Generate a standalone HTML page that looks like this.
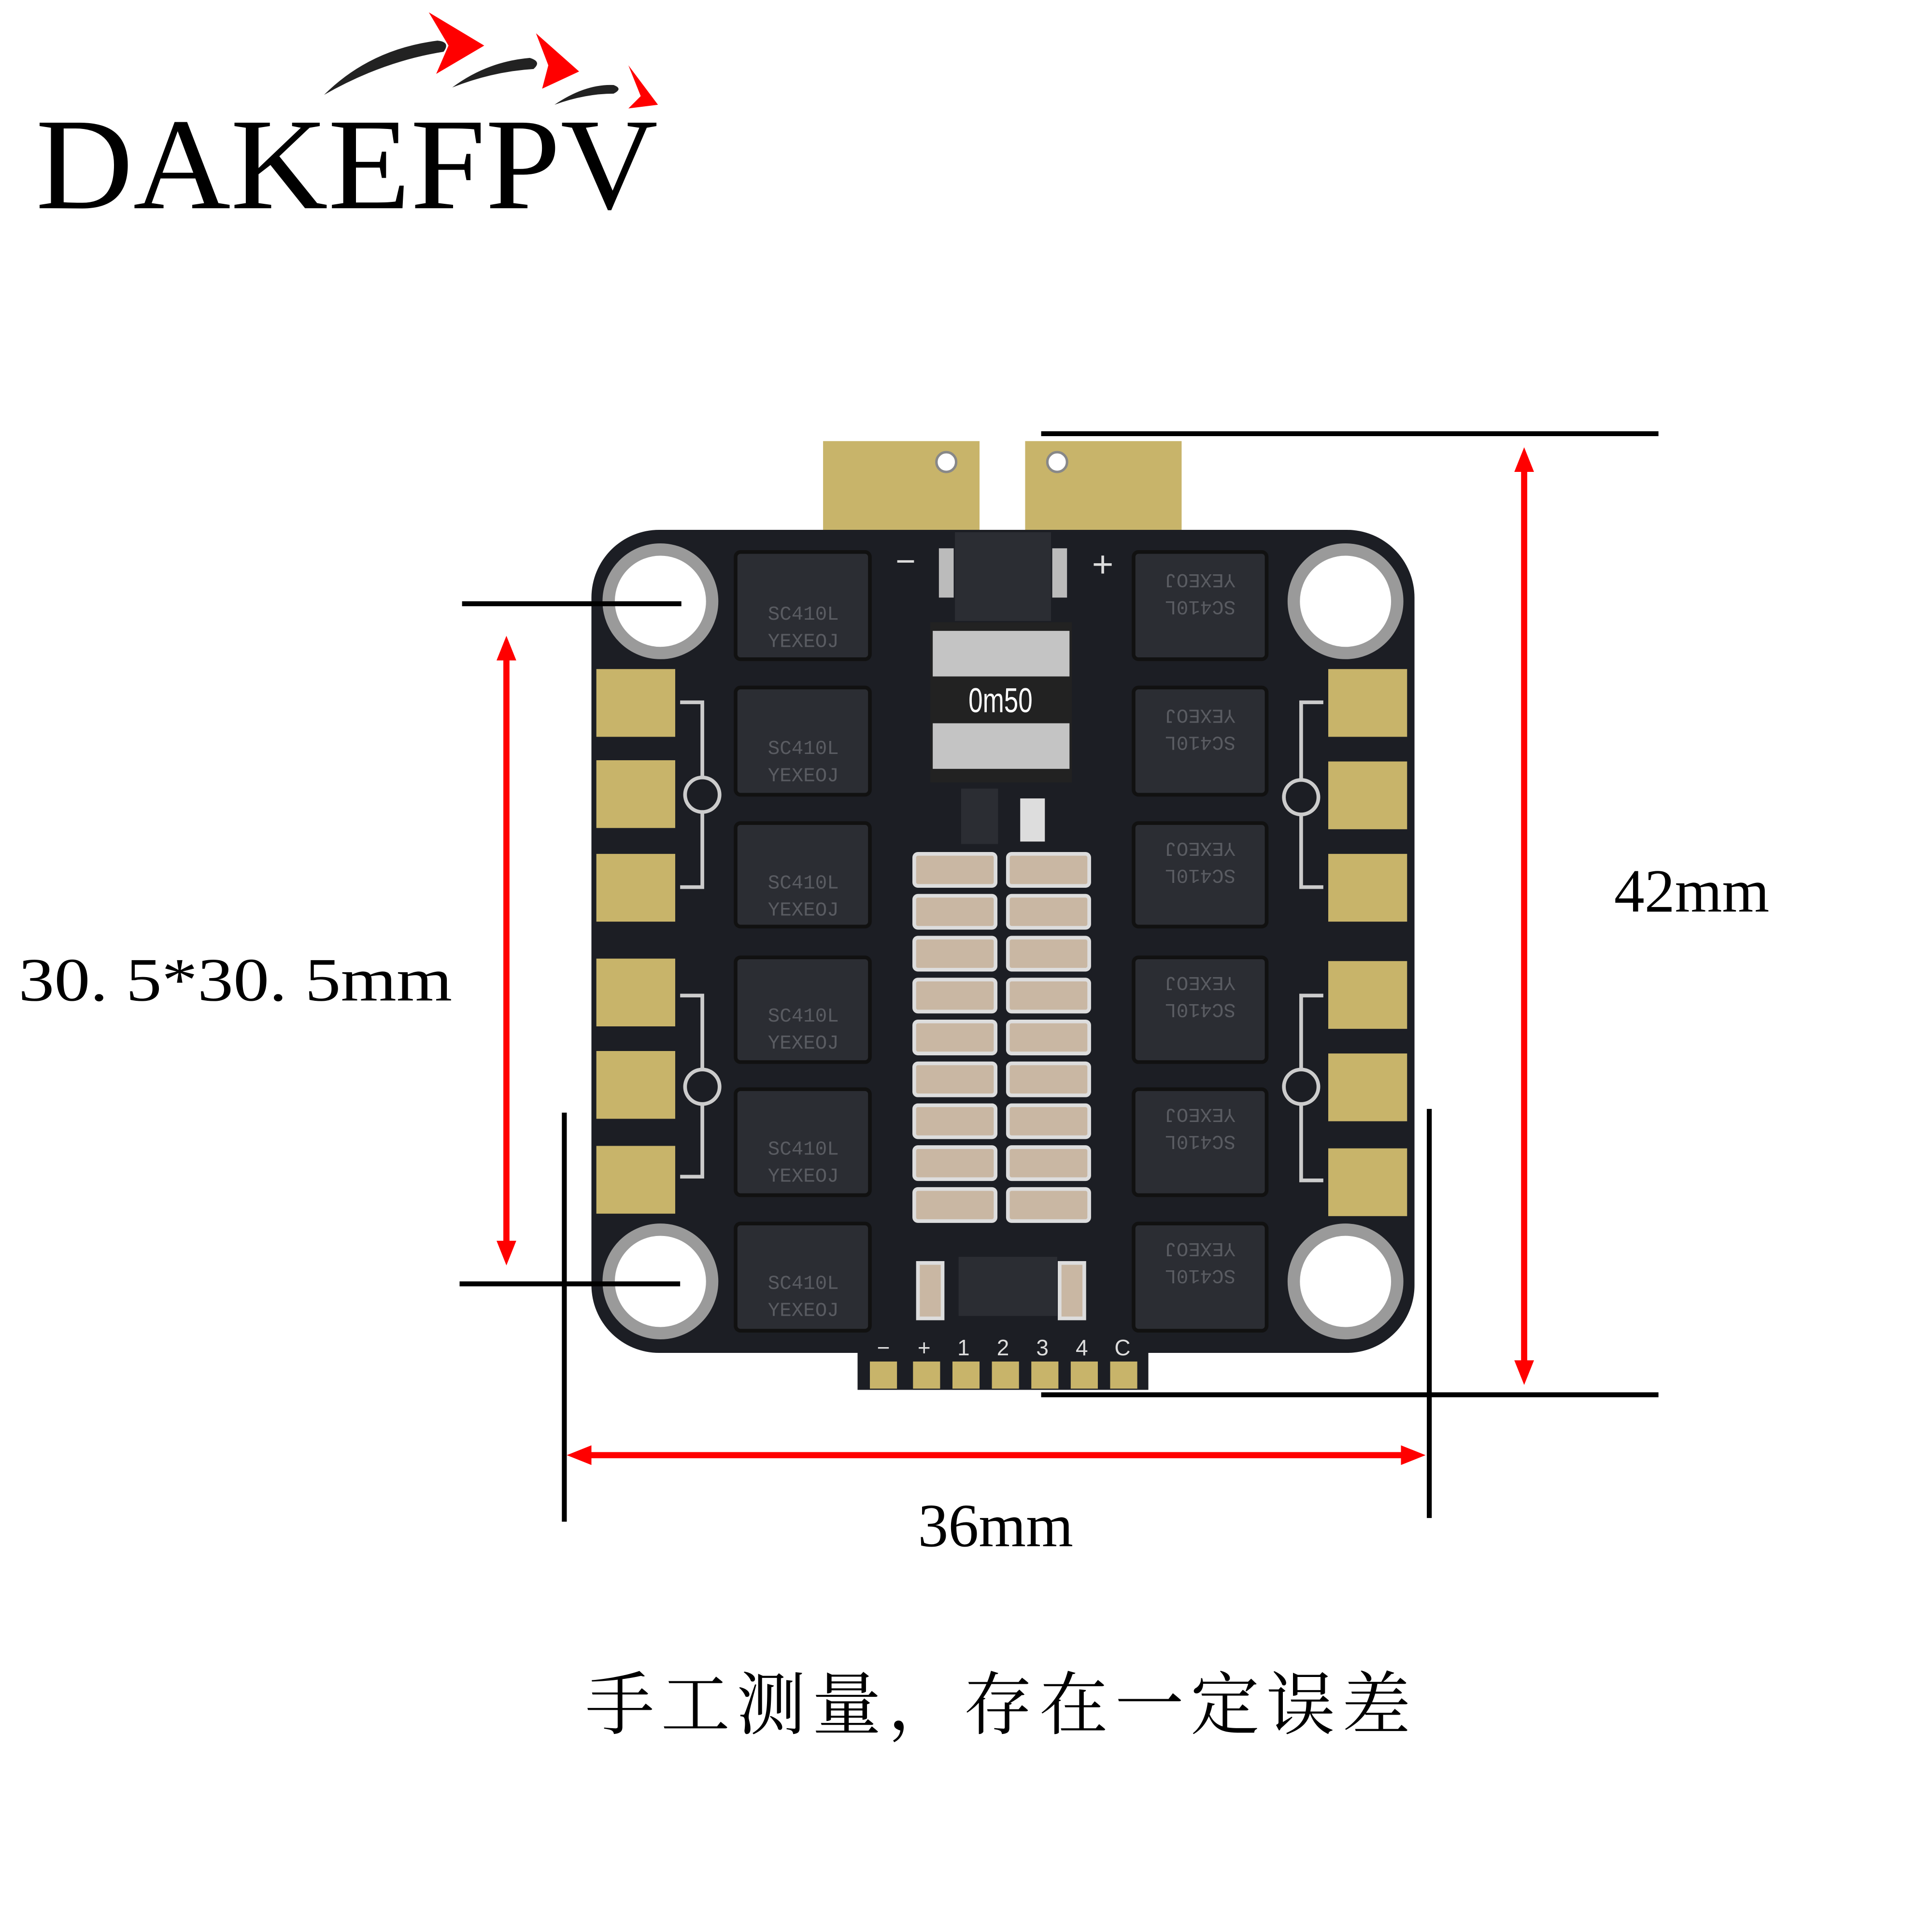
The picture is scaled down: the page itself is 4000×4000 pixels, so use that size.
<!DOCTYPE html>
<html><head><meta charset="utf-8"><style>html,body{margin:0;padding:0;background:#fff}svg{display:block}</style></head>
<body>
<svg width="4000" height="4000" viewBox="0 0 1568 1568" xmlns="http://www.w3.org/2000/svg">
<rect width="1568" height="1568" fill="#fff"/>
<!-- logo -->
<path d="M263 77 Q300 40 355 33 Q366 34 360 42 Q310 50 263 77Z" fill="#222"/>
<path d="M348 10 L393 37 L354 60 L364 37Z" fill="#f00"/>
<path d="M367 71 Q395 50 430 47 Q440 50 433 56 Q400 58 367 71Z" fill="#222"/>
<path d="M435 27 L470 58 L440 72 L445 53Z" fill="#f00"/>
<path d="M450 85 Q475 68 498 69 Q506 72 498 76 Q475 76 450 85Z" fill="#222"/>
<path d="M510 53 L534 85 L510 88 L520 78Z" fill="#f00"/>
<text x="29" y="169" font-family="Liberation Serif, serif" font-size="106" textLength="505" lengthAdjust="spacingAndGlyphs" fill="#000">DAKEFPV</text>

<!-- tabs -->
<rect x="668" y="358" width="127" height="78" fill="#c8b46a"/>
<rect x="832" y="358" width="127" height="78" fill="#c8b46a"/>
<circle cx="768" cy="375" r="8" fill="#fff" stroke="#888" stroke-width="2"/>
<circle cx="858" cy="375" r="8" fill="#fff" stroke="#888" stroke-width="2"/>
<!-- board -->
<rect x="480" y="430" width="668" height="668" rx="55" fill="#1c1e24"/>
<rect x="696" y="1080" width="236" height="48" fill="#1c1e24"/>
<g fill="#c8b46a">
<rect x="706" y="1105" width="22" height="22"/><rect x="741" y="1105" width="22" height="22"/><rect x="773" y="1105" width="22" height="22"/><rect x="805" y="1105" width="22" height="22"/><rect x="837" y="1105" width="22" height="22"/><rect x="869" y="1105" width="22" height="22"/><rect x="901" y="1105" width="22" height="22"/>
</g>
<g fill="#ddd" font-family="Liberation Sans, sans-serif" font-size="18" text-anchor="middle">
<text x="717" y="1100">−</text><text x="750" y="1100">+</text><text x="782" y="1100">1</text><text x="814" y="1100">2</text><text x="846" y="1100">3</text><text x="878" y="1100">4</text><text x="911" y="1100">C</text>
<text x="735" y="465" font-size="28">−</text><text x="895" y="468" font-size="30">+</text>
</g>
<!-- holes -->
<g fill="#fff" stroke="#9a9a9a" stroke-width="10">
<circle cx="536" cy="488" r="42"/><circle cx="1092" cy="488" r="42"/><circle cx="536" cy="1040" r="42"/><circle cx="1092" cy="1040" r="42"/>
</g>
<!-- side pads -->
<g fill="#c8b46a">
<rect x="484" y="543" width="64" height="55"/><rect x="484" y="617" width="64" height="55"/><rect x="484" y="693" width="64" height="55"/>
<rect x="484" y="778" width="64" height="55"/><rect x="484" y="853" width="64" height="55"/><rect x="484" y="930" width="64" height="55"/>
<rect x="1078" y="543" width="64" height="55"/><rect x="1078" y="618" width="64" height="55"/><rect x="1078" y="693" width="64" height="55"/>
<rect x="1078" y="780" width="64" height="55"/><rect x="1078" y="855" width="64" height="55"/><rect x="1078" y="932" width="64" height="55"/>
</g>
<g fill="none" stroke="#ccc" stroke-width="3">
<path d="M552 570 H570 V720 H552"/><path d="M552 808 H570 V955 H552"/>
<path d="M1074 570 H1056 V720 H1074"/><path d="M1074 808 H1056 V958 H1074"/>
<circle cx="570" cy="645" r="14" fill="#1c1e24"/><circle cx="570" cy="882" r="14" fill="#1c1e24"/>
<circle cx="1056" cy="647" r="14" fill="#1c1e24"/><circle cx="1056" cy="882" r="14" fill="#1c1e24"/>
</g>
<!-- mosfets -->
<g fill="#2b2d33" stroke="#111" stroke-width="3">
<rect x="597" y="448" width="109" height="87" rx="4"/><rect x="597" y="558" width="109" height="87" rx="4"/><rect x="597" y="668" width="109" height="84" rx="4"/>
<rect x="597" y="777" width="109" height="85" rx="4"/><rect x="597" y="884" width="109" height="86" rx="4"/><rect x="597" y="993" width="109" height="87" rx="4"/>
<rect x="920" y="448" width="108" height="87" rx="4"/><rect x="920" y="558" width="108" height="87" rx="4"/><rect x="920" y="668" width="108" height="84" rx="4"/>
<rect x="920" y="777" width="108" height="85" rx="4"/><rect x="920" y="884" width="108" height="86" rx="4"/><rect x="920" y="993" width="108" height="87" rx="4"/>
</g>
<g fill="#5a5c62" font-family="Liberation Mono, monospace" font-size="16" text-anchor="middle">
<text x="652" y="503">SC410L</text><text x="652" y="525">YEXEOJ</text>
<text x="652" y="612">SC410L</text><text x="652" y="634">YEXEOJ</text>
<text x="652" y="721">SC410L</text><text x="652" y="743">YEXEOJ</text>
<text x="652" y="829">SC410L</text><text x="652" y="851">YEXEOJ</text>
<text x="652" y="937">SC410L</text><text x="652" y="959">YEXEOJ</text>
<text x="652" y="1046">SC410L</text><text x="652" y="1068">YEXEOJ</text>
</g>
<g fill="#5a5c62" font-family="Liberation Mono, monospace" font-size="16" text-anchor="middle" transform="rotate(180 974 764)">
<text x="974" y="1040">SC410L</text><text x="974" y="1062">YEXEOJ</text>
<text x="974" y="930">SC410L</text><text x="974" y="952">YEXEOJ</text>
<text x="974" y="822">SC410L</text><text x="974" y="844">YEXEOJ</text>
<text x="974" y="713">SC410L</text><text x="974" y="735">YEXEOJ</text>
<text x="974" y="606">SC410L</text><text x="974" y="628">YEXEOJ</text>
<text x="974" y="497">SC410L</text><text x="974" y="519">YEXEOJ</text>
</g>
<!-- center -->
<rect x="775" y="432" width="78" height="72" fill="#2b2d33"/>
<rect x="762" y="445" width="12" height="40" fill="#bbb"/><rect x="854" y="445" width="12" height="40" fill="#bbb"/>
<rect x="755" y="505" width="115" height="130" fill="#222"/>
<rect x="757" y="512" width="111" height="37" fill="#c4c4c4"/>
<rect x="757" y="587" width="111" height="37" fill="#c4c4c4"/>
<text x="812" y="578" fill="#fff" font-family="Liberation Sans, sans-serif" font-size="28" text-anchor="middle" textLength="52" lengthAdjust="spacingAndGlyphs">0m50</text>
<rect x="780" y="640" width="30" height="45" fill="#2b2d33"/>
<rect x="828" y="648" width="20" height="35" fill="#ddd"/>
<g fill="#c9b7a3" stroke="#ddd" stroke-width="3">
<rect x="742" y="693" width="66" height="26" rx="3"/><rect x="818" y="693" width="66" height="26" rx="3"/>
<rect x="742" y="727" width="66" height="26" rx="3"/><rect x="818" y="727" width="66" height="26" rx="3"/>
<rect x="742" y="761" width="66" height="26" rx="3"/><rect x="818" y="761" width="66" height="26" rx="3"/>
<rect x="742" y="795" width="66" height="26" rx="3"/><rect x="818" y="795" width="66" height="26" rx="3"/>
<rect x="742" y="829" width="66" height="26" rx="3"/><rect x="818" y="829" width="66" height="26" rx="3"/>
<rect x="742" y="863" width="66" height="26" rx="3"/><rect x="818" y="863" width="66" height="26" rx="3"/>
<rect x="742" y="897" width="66" height="26" rx="3"/><rect x="818" y="897" width="66" height="26" rx="3"/>
<rect x="742" y="931" width="66" height="26" rx="3"/><rect x="818" y="931" width="66" height="26" rx="3"/>
<rect x="742" y="965" width="66" height="26" rx="3"/><rect x="818" y="965" width="66" height="26" rx="3"/>
<rect x="745" y="1025" width="20" height="45"/><rect x="860" y="1025" width="20" height="45"/>
</g>
<rect x="778" y="1020" width="80" height="48" fill="#2b2d33"/>

<!-- dimension lines -->
<g stroke="#000" stroke-width="4">
<line x1="845" y1="352" x2="1346" y2="352"/>
<line x1="845" y1="1132" x2="1346" y2="1132"/>
<line x1="375" y1="490" x2="553" y2="490"/>
<line x1="373" y1="1042" x2="552" y2="1042"/>
<line x1="458" y1="903" x2="458" y2="1235"/>
<line x1="1160" y1="900" x2="1160" y2="1232"/>
</g>
<g stroke="#f00" stroke-width="5" fill="#f00">
<line x1="1237" y1="375" x2="1237" y2="1112"/>
<path d="M1237 363 L1229 383 L1245 383Z" stroke="none"/><path d="M1237 1124 L1229 1104 L1245 1104Z" stroke="none"/>
<line x1="411" y1="528" x2="411" y2="1015"/>
<path d="M411 516 L403 536 L419 536Z" stroke="none"/><path d="M411 1027 L403 1007 L419 1007Z" stroke="none"/>
<line x1="472" y1="1181" x2="1145" y2="1181"/>
<path d="M460 1181 L480 1173 L480 1189Z" stroke="none"/><path d="M1157 1181 L1137 1173 L1137 1189Z" stroke="none"/>
</g>
<g font-family="Liberation Serif, 'Noto Serif CJK SC', serif" font-size="50" fill="#000">
<text x="1310" y="740" textLength="126" lengthAdjust="spacingAndGlyphs">42mm</text>
<text x="15" y="812" textLength="352" lengthAdjust="spacingAndGlyphs">30. 5*30. 5mm</text>
<text x="745" y="1255" textLength="126" lengthAdjust="spacingAndGlyphs">36mm</text>
</g>
<text x="475" y="1403" font-family="'Noto Serif CJK SC', serif" font-size="56" fill="#000" textLength="670" lengthAdjust="spacing">手工测量，存在一定误差</text>
</svg>
</body></html>
